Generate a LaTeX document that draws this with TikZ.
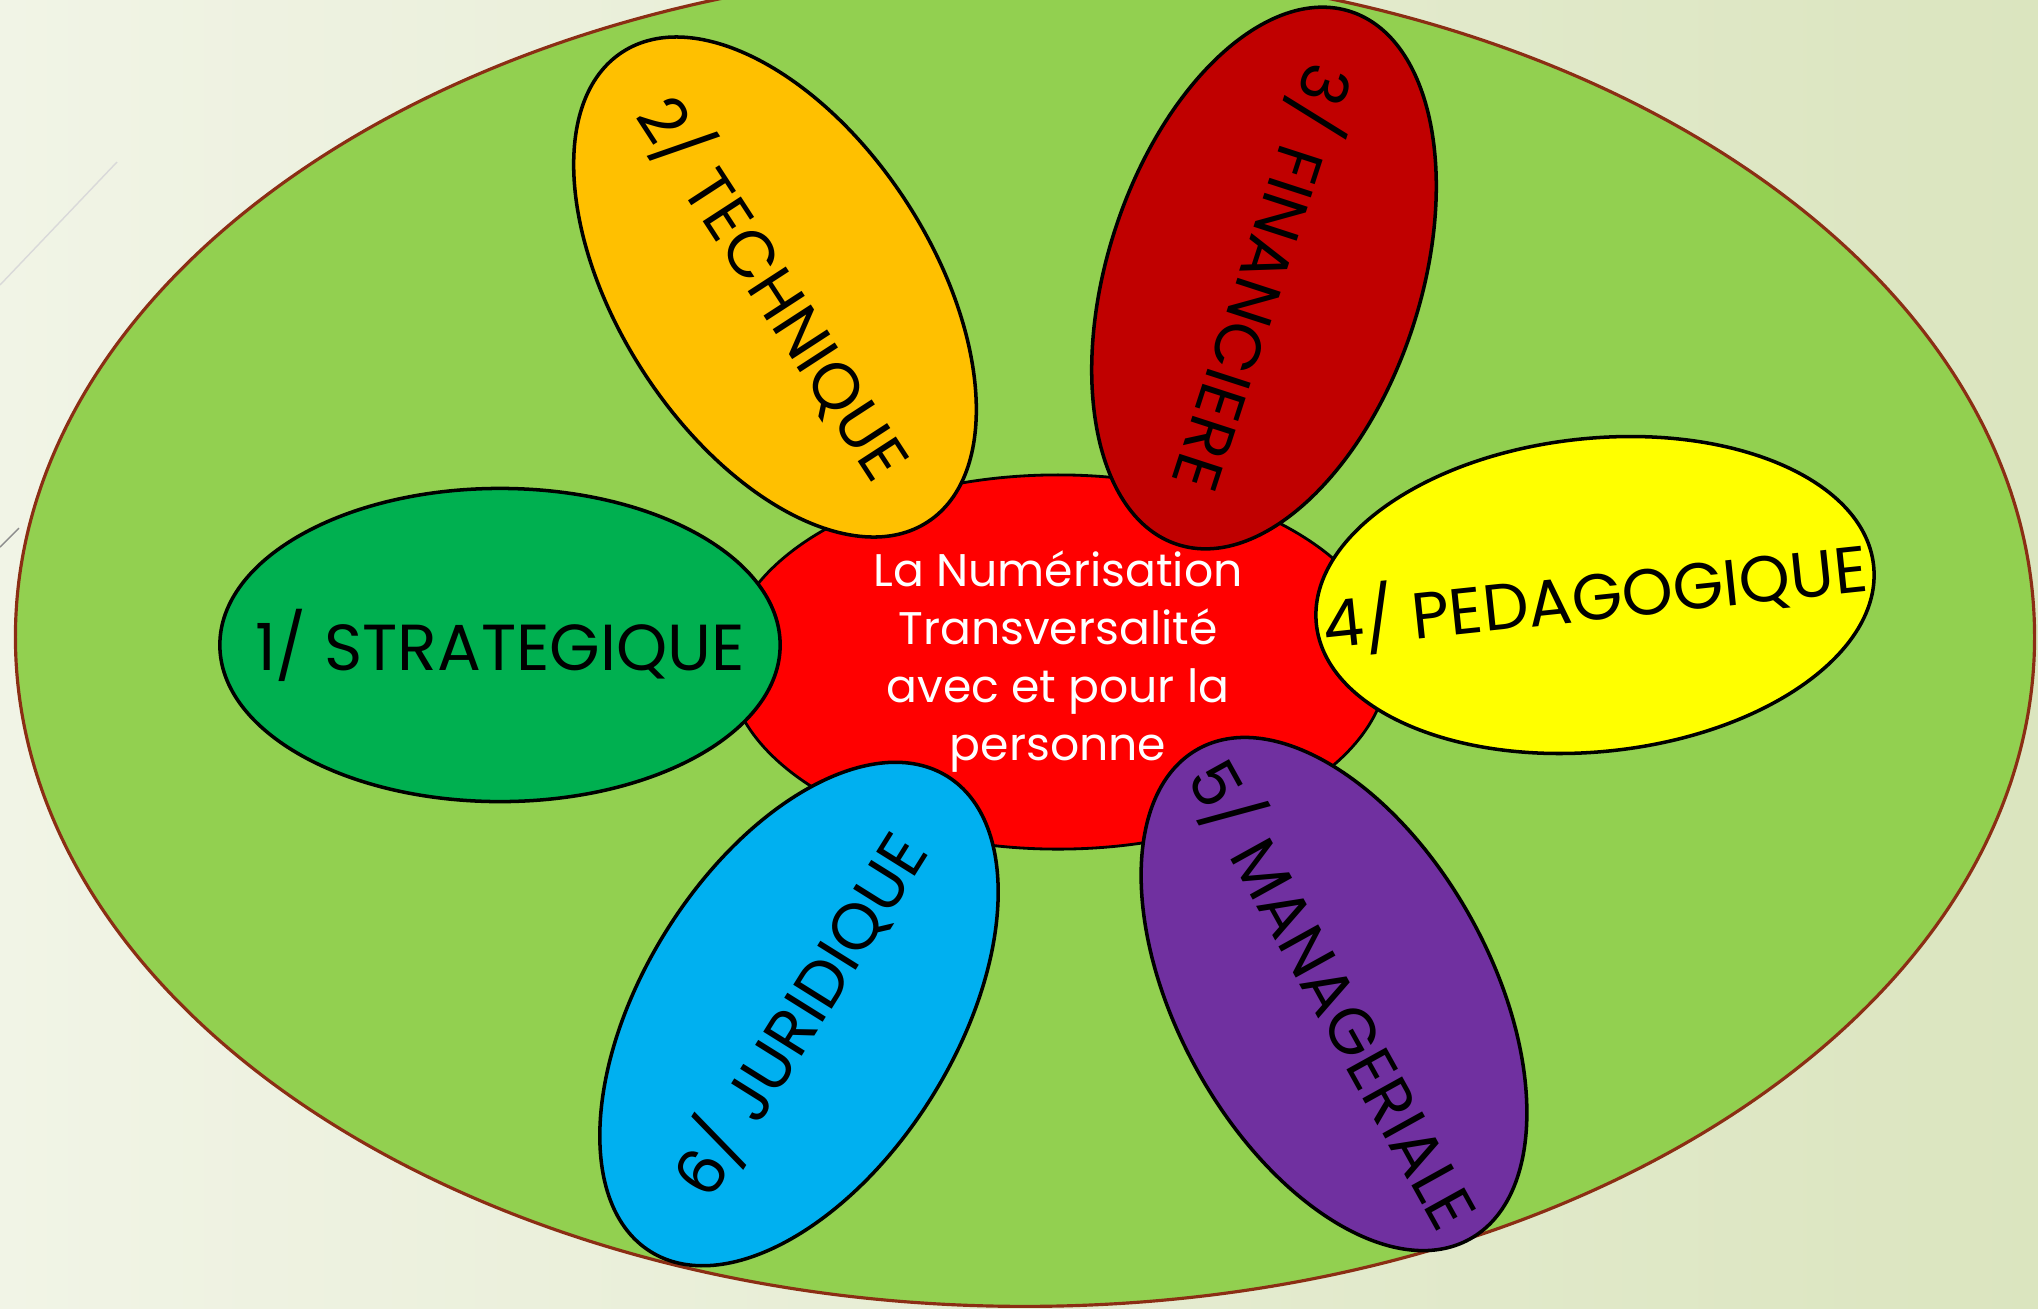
\documentclass[tikz,border=0pt]{standalone}
\usepackage{fontspec}
\setmainfont{Poppins}
\usetikzlibrary{shapes.geometric}

\definecolor{slidelight}{HTML}{F1F4E6}
\definecolor{slidedark}{HTML}{DBE5BF}
\definecolor{fieldgreen}{HTML}{92D050}
\definecolor{fieldline}{HTML}{8B2E14}
\definecolor{corered}{HTML}{FF0000}
\definecolor{stratgreen}{HTML}{00B050}
\definecolor{techorange}{HTML}{FFC000}
\definecolor{findark}{HTML}{C00000}
\definecolor{pedayellow}{HTML}{FFFF00}
\definecolor{manapurple}{HTML}{7030A0}
\definecolor{juriblue}{HTML}{00B0F0}

\begin{document}
\begin{tikzpicture}[x=0.01cm, y=-0.01cm,
    petal/.style={ellipse, draw=black, line width=1pt, minimum width=5.6cm,
        minimum height=3.13cm, inner xsep=-3cm, inner ysep=-1cm,
        font=\fontsize{18.5pt}{21pt}\selectfont},
    core/.style={ellipse, draw=black, line width=0.8pt, fill=corered, text=white,
        minimum width=6.6cm, minimum height=3.74cm, inner sep=0pt, align=center,
        font=\fontsize{13pt}{16.5pt}\selectfont}]

    \newcommand*{\slidew}{2038}%
    \newcommand*{\slideh}{1308}%

    \useasboundingbox (0,0) rectangle (\slidew,\slideh);
    \shade[left color=slidelight, right color=slidedark] (0,0) rectangle (\slidew,\slideh);

    % slide decoration ↓
    \draw[black!15, line width=0.4pt] (0,285) -- (117,162);
    \draw[black!45, line width=0.4pt] (0,547) -- (19,528);

    % field + core ↓
    \node[ellipse, draw=fieldline, line width=0.9pt, fill=fieldgreen,
        minimum width=20.18cm, minimum height=13.38cm, inner sep=0pt] (field) at (1025,637) {};
    \node[core] (core) at (1058,662) {La Numérisation\\Transversalité\\avec et pour la\\personne};

    % petals ↓
    \node[petal, fill=stratgreen, rotate=0]   (strat) at (500,645)  {1/ STRATEGIQUE};
    \node[petal, fill=techorange, rotate=-57] (tech)  at (775,287)  {2/ TECHNIQUE};
    \node[petal, fill=findark, rotate=-108]   (fin)   at (1264,278) {3/ FINANCIERE};
    \node[petal, fill=pedayellow, rotate=6]   (peda)  at (1595,595) {4/ PEDAGOGIQUE};
    \node[petal, fill=manapurple, rotate=-61] (mana)  at (1334,994) {5/ MANAGERIALE};
    \node[petal, fill=juriblue, rotate=58]    (juri)  at (799,1014) {6/ JURIDIQUE};

\end{tikzpicture}
\end{document}
